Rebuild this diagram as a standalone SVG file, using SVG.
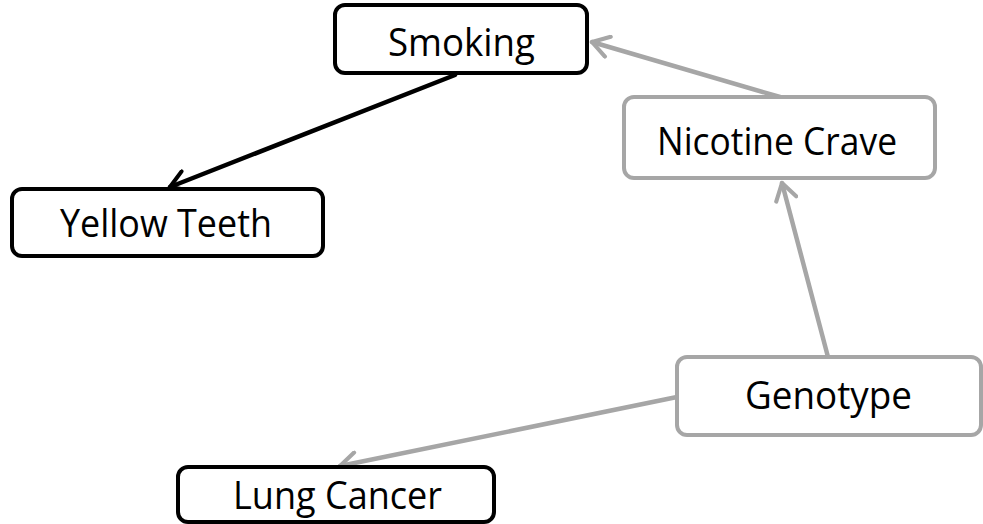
<svg xmlns="http://www.w3.org/2000/svg" width="983" height="524" viewBox="0 0 983 524">
  <defs>
    <marker id="headDark" viewBox="0 0 12 12" refX="10" refY="6" markerWidth="5.5" markerHeight="5.5" orient="auto" markerUnits="strokeWidth">
      <path d="M2,1 L10,6 L2,11" fill="none" stroke="#000" stroke-width="2" stroke-linecap="round" stroke-linejoin="round"/>
    </marker>
    <marker id="headGray" viewBox="0 0 12 12" refX="10" refY="6" markerWidth="5.5" markerHeight="5.5" orient="auto" markerUnits="strokeWidth">
      <path d="M2,1 L10,6 L2,11" fill="none" stroke="#a6a6a6" stroke-width="2" stroke-linecap="round" stroke-linejoin="round"/>
    </marker>
  </defs>
  <style>
    .box { fill: #fff; stroke-width: 4; }
    .dark { stroke: #000; }
    .gray { stroke: #a6a6a6; }
    .label { font-family: "Open Sans", "Liberation Sans", sans-serif; font-size: 38px; fill: #000; text-anchor: middle; }
    .edge { fill: none; stroke-width: 4.5; stroke-linecap: round; }
  </style>
  <rect width="983" height="524" fill="#fff"/>

  <g id="edges">
    <line class="edge dark" x1="455" y1="75" x2="170" y2="187" marker-end="url(#headDark)"/>
    <line class="edge gray" x1="780" y1="97" x2="592" y2="42" marker-end="url(#headGray)"/>
    <line class="edge gray" x1="828" y1="357" x2="782" y2="183" marker-end="url(#headGray)"/>
    <line class="edge gray" x1="677" y1="397" x2="340" y2="466" marker-end="url(#headGray)"/>
  </g>

  <g id="smoking">
    <rect class="box dark" x="335" y="5" width="252" height="68" rx="10"/>
    <text class="label" x="461.5" y="56" textLength="147" lengthAdjust="spacingAndGlyphs">Smoking</text>
  </g>
  <g id="yellow-teeth">
    <rect class="box dark" x="12" y="189" width="311" height="67" rx="10"/>
    <text class="label" x="166" y="237" textLength="212" lengthAdjust="spacingAndGlyphs">Yellow Teeth</text>
  </g>
  <g id="nicotine-crave">
    <rect class="box gray" x="624" y="97" width="311" height="81" rx="10"/>
    <text class="label" x="777" y="155" textLength="240" lengthAdjust="spacingAndGlyphs">Nicotine Crave</text>
  </g>
  <g id="genotype">
    <rect class="box gray" x="677" y="357" width="304" height="78" rx="10"/>
    <text class="label" x="828.5" y="409" textLength="167" lengthAdjust="spacingAndGlyphs">Genotype</text>
  </g>
  <g id="lung-cancer">
    <rect class="box dark" x="178" y="467" width="316" height="55" rx="10"/>
    <text class="label" x="337.5" y="509" textLength="209" lengthAdjust="spacingAndGlyphs">Lung Cancer</text>
  </g>
</svg>
